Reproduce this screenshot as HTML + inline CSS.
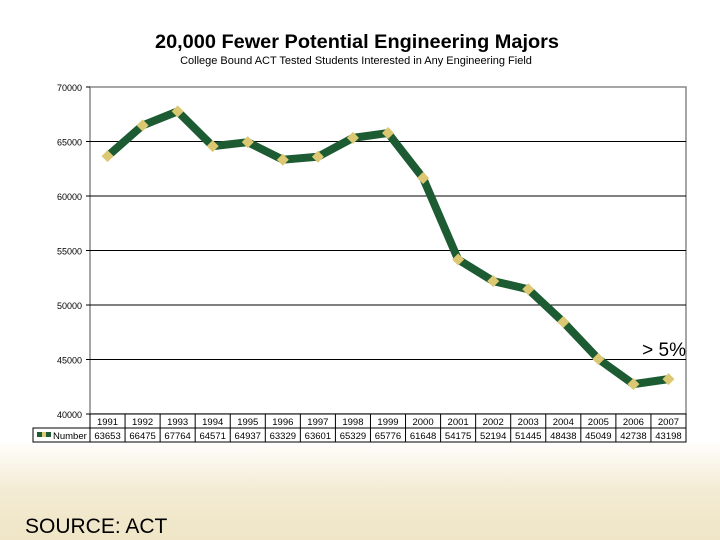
<!DOCTYPE html>
<html><head><meta charset="utf-8"><style>
html,body{margin:0;padding:0;}
body{width:720px;height:540px;overflow:hidden;background:linear-gradient(to bottom,#fff 0px,#fff 440px,#f3ebd3 490px,#efe5c6 540px);font-family:"Liberation Sans",sans-serif;}
</style></head><body>
<svg width="720" height="540" style="position:absolute;left:0;top:0" font-family="Liberation Sans, sans-serif">
<text x="357" y="48" text-anchor="middle" font-size="19" textLength="404" lengthAdjust="spacingAndGlyphs" font-weight="bold">20,000 Fewer Potential Engineering Majors</text>
<text x="356" y="64" text-anchor="middle" font-size="11">College Bound ACT Tested Students Interested in Any Engineering Field</text>
<rect x="90" y="87" width="596" height="327" fill="#fff" stroke="#888" stroke-width="1.5"/>
<g id="grid"></g><g id="yt"></g><g id="series"></g><g id="tbl"></g>
<text x="686" y="356" text-anchor="end" font-size="19">&gt; 5%</text>
<text x="25" y="533" font-size="21">SOURCE: ACT</text>
</svg>
<script>
const years=["1991","1992","1993","1994","1995","1996","1997","1998","1999","2000","2001","2002","2003","2004","2005","2006","2007"];
const values=[63653,66475,67764,64571,64937,63329,63601,65329,65776,61648,54175,52194,51445,48438,45049,42738,43198];
const yTicks=[40000,45000,50000,55000,60000,65000,70000];
const NS="http://www.w3.org/2000/svg";
const X0=90,X1=686,Y0=414,Y1=87,cw=(X1-X0)/years.length;
const xs=i=>X0+cw*(i+0.5);
const ys=v=>Y0-(v-40000)/30000*(Y0-Y1);
function mk(t,a,p){const e=document.createElementNS(NS,t);for(const k in a)e.setAttribute(k,a[k]);p.appendChild(e);return e;}
const g=document.getElementById('grid'),yt=document.getElementById('yt'),s=document.getElementById('series'),tb=document.getElementById('tbl');
yTicks.forEach(v=>{
 if(v>40000&&v<70000){const l=mk('line',{x1:X0,x2:X1,y1:ys(v),y2:ys(v),stroke:'#000','stroke-width':1},g);
 
 }
 const t=mk('text',{x:82,y:ys(v)+4,'text-anchor':'end','font-size':9},yt);t.textContent=v;
 
 
 mk('line',{x1:86,x2:90,y1:ys(v),y2:ys(v),stroke:'#000'},yt);
});
const pl=mk('polyline',{points:values.map((v,i)=>xs(i)+','+ys(v)).join(' '),fill:'none',stroke:'#1d5c32','stroke-width':8,'stroke-linejoin':'miter'},s);


values.forEach((v,i)=>{const x=xs(i),y=ys(v);
 const m=mk('polygon',{points:`${x},${y-6} ${x+6},${y} ${x},${y+6} ${x-6},${y}`,fill:'#dcc873'},s);
 
 });
mk('rect',{x:X0,y:414,width:X1-X0,height:14,fill:'#fff',stroke:'#000','stroke-width':1},tb);
mk('rect',{x:33,y:428,width:X1-33,height:14,fill:'#fff',stroke:'#000','stroke-width':1},tb);
for(let i=1;i<years.length;i++)mk('line',{x1:X0+cw*i,x2:X0+cw*i,y1:414,y2:442,stroke:'#000'},tb);
mk('line',{x1:X0,x2:X0,y1:414,y2:442,stroke:'#000'},tb);
years.forEach((y,i)=>{
 const t=mk('text',{x:xs(i),y:425,'text-anchor':'middle','font-size':9.5},tb);t.textContent=y;
 
 
 const n=mk('text',{x:xs(i),y:439,'text-anchor':'middle','font-size':9.5},tb);n.textContent=values[i];
 
 
});
mk('rect',{x:37,y:432,width:14,height:5,fill:'#1d5c32'},tb);
mk('rect',{x:42,y:432,width:4,height:5,fill:'#dcc873'},tb);
const lt=mk('text',{x:53,y:439,'font-size':9.5},tb);lt.textContent='Number';


</script>
</body></html>
